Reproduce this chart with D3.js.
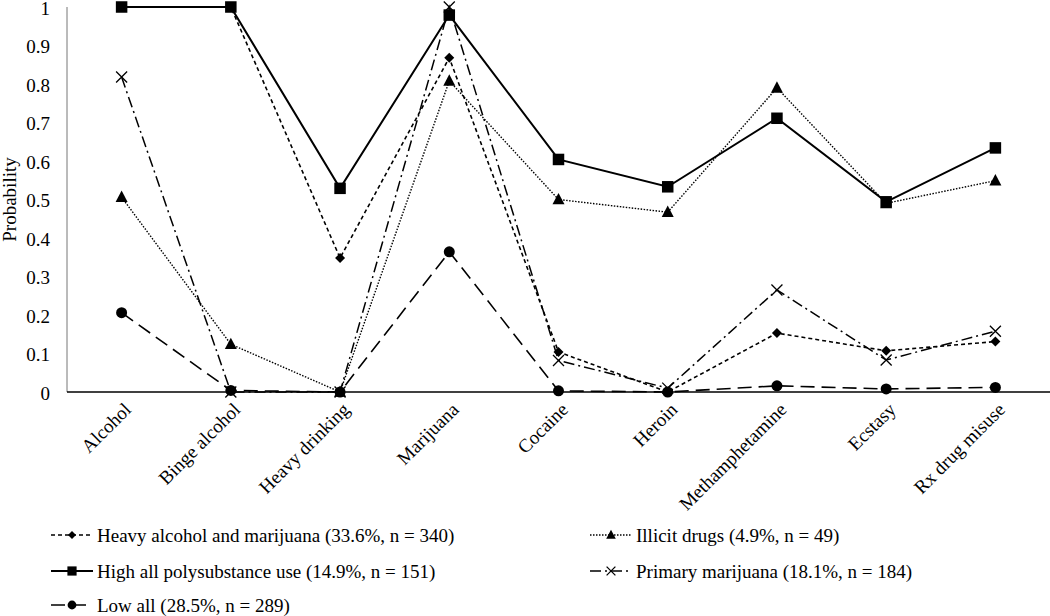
<!DOCTYPE html>
<html><head><meta charset="utf-8">
<script src="https://cdn.jsdelivr.net/npm/d3@7"></script>
<style>
html,body{margin:0;padding:0;background:#fff;}
svg{display:block;}
svg text{font-family:"Liberation Serif","Times New Roman","DejaVu Serif",serif;}
</style></head>
<body><svg id="c" width="1050" height="616"></svg>
<script>
const categories = ["Alcohol","Binge alcohol","Heavy drinking","Marijuana","Cocaine","Heroin","Methamphetamine","Ecstasy","Rx drug misuse"];
const yTicks = [0,0.1,0.2,0.3,0.4,0.5,0.6,0.7,0.8,0.9,1];
const heavyAlcMj   = [1.0, 1.0, 0.348, 0.868, 0.104, 0.0, 0.153, 0.107, 0.131];
const illicit      = [0.506, 0.124, 0.0, 0.808, 0.500, 0.467, 0.790, 0.490, 0.549];
const highAll      = [1.0, 1.0, 0.529, 0.979, 0.604, 0.533, 0.711, 0.494, 0.634];
const primaryMj    = [0.818, 0.0, 0.0, 1.0, 0.082, 0.010, 0.265, 0.083, 0.158];
const lowAll       = [0.206, 0.004, 0.0, 0.364, 0.003, 0.0, 0.016, 0.008, 0.012];
const seriesNames = ["Heavy alcohol and marijuana (33.6%, n = 340)","Illicit drugs (4.9%, n = 49)","High all polysubstance use (14.9%, n = 151)","Primary marijuana (18.1%, n = 184)","Low all (28.5%, n = 289)"];

const series = [
  {name:seriesNames[0], values:heavyAlcMj, marker:"diamond", dash:"4,3", w:1.6},
  {name:seriesNames[1], values:illicit, marker:"triangle", dash:"1.5,1.5", w:1.4},
  {name:seriesNames[2], values:highAll, marker:"square", dash:null, w:2},
  {name:seriesNames[3], values:primaryMj, marker:"cross", dash:"11,4,2,4", w:1.5},
  {name:seriesNames[4], values:lowAll, marker:"circle", dash:"14,7", w:1.6}
];
const drawOrder = [4,3,1,0,2];
const FONT = "'Liberation Serif','Times New Roman','DejaVu Serif',serif";

const svg = d3.select("#c");
const mLeft = 67, mRight = 1050, mTop = 7, mBottom = 392;
const x = d3.scalePoint().domain(categories).range([mLeft, mRight]).padding(0.5);
const y = d3.scaleLinear().domain([0,1]).range([mBottom, mTop]);

// y axis
svg.append("line").attr("x1",mLeft).attr("x2",mLeft).attr("y1",mTop).attr("y2",mBottom).attr("stroke","#777").attr("stroke-width",1);
svg.append("g").selectAll("text").data(yTicks).join("text")
  .attr("x",50).attr("y",d=>y(d)).attr("dy","0.4em").attr("text-anchor","end")
  .attr("font-family",FONT).attr("font-size",19).text(d=>d3.format("")(d));
svg.append("text").attr("transform",`translate(16,${(mTop+mBottom)/2}) rotate(-90)`)
  .attr("text-anchor","middle").attr("font-family",FONT).attr("font-size",19).text("Probability");

// x axis
svg.append("line").attr("x1",mLeft).attr("x2",mRight).attr("y1",mBottom).attr("y2",mBottom).attr("stroke","#000").attr("stroke-width",1.5);
svg.append("g").selectAll("text").data(categories).join("text")
  .attr("transform",d=>`translate(${x(d)+6},${mBottom+14}) rotate(-45)`)
  .attr("text-anchor","end").attr("font-family",FONT).attr("font-size",19).attr("dy","0.35em").text(d=>d);

function drawMarker(g, type, cx, cy, s){
  if(type==="square") g.append("rect").attr("x",cx-s/2).attr("y",cy-s/2).attr("width",s).attr("height",s).attr("fill","#000");
  else if(type==="circle") g.append("circle").attr("cx",cx).attr("cy",cy).attr("r",s/2).attr("fill","#000");
  else if(type==="diamond") g.append("path").attr("d",`M${cx},${cy-s/2}L${cx+s/2},${cy}L${cx},${cy+s/2}L${cx-s/2},${cy}Z`).attr("fill","#000");
  else if(type==="triangle") g.append("path").attr("d",`M${cx},${cy-s*0.55}L${cx+s/2},${cy+s*0.4}L${cx-s/2},${cy+s*0.4}Z`).attr("fill","#000");
  else if(type==="cross") g.append("path").attr("d",`M${cx-s/2},${cy-s/2}L${cx+s/2},${cy+s/2}M${cx-s/2},${cy+s/2}L${cx+s/2},${cy-s/2}`).attr("stroke","#000").attr("stroke-width",1.3).attr("fill","none");
}
const msize = {square:11.5, circle:11, diamond:10, triangle:12, cross:11};

const line = d3.line().x((d,i)=>x(categories[i])).y(d=>y(d));
drawOrder.forEach(k=>{
  const s = series[k];
  const g = svg.append("g");
  g.append("path").attr("d",line(s.values)).attr("fill","none").attr("stroke","#000")
    .attr("stroke-width",s.w).attr("stroke-dasharray",s.dash);
  s.values.forEach((v,i)=>drawMarker(g, s.marker, x(categories[i]), y(v), msize[s.marker]));
});

// legend
const legPos = [[51,535],[590,535],[51,571],[590,571],[51,605]];
series.forEach((s,k)=>{
  const [lx,ly] = legPos[k];
  const g = svg.append("g");
  g.append("line").attr("x1",lx).attr("x2",lx+42).attr("y1",ly).attr("y2",ly).attr("stroke","#000")
    .attr("stroke-width",s.w).attr("stroke-dasharray",s.dash);
  drawMarker(g, s.marker, lx+21, ly, msize[s.marker]*0.8);
  g.append("text").attr("x",lx+46).attr("y",ly).attr("dy","0.35em").attr("font-family",FONT).attr("font-size",19).text(s.name);
});
</script></body></html>
